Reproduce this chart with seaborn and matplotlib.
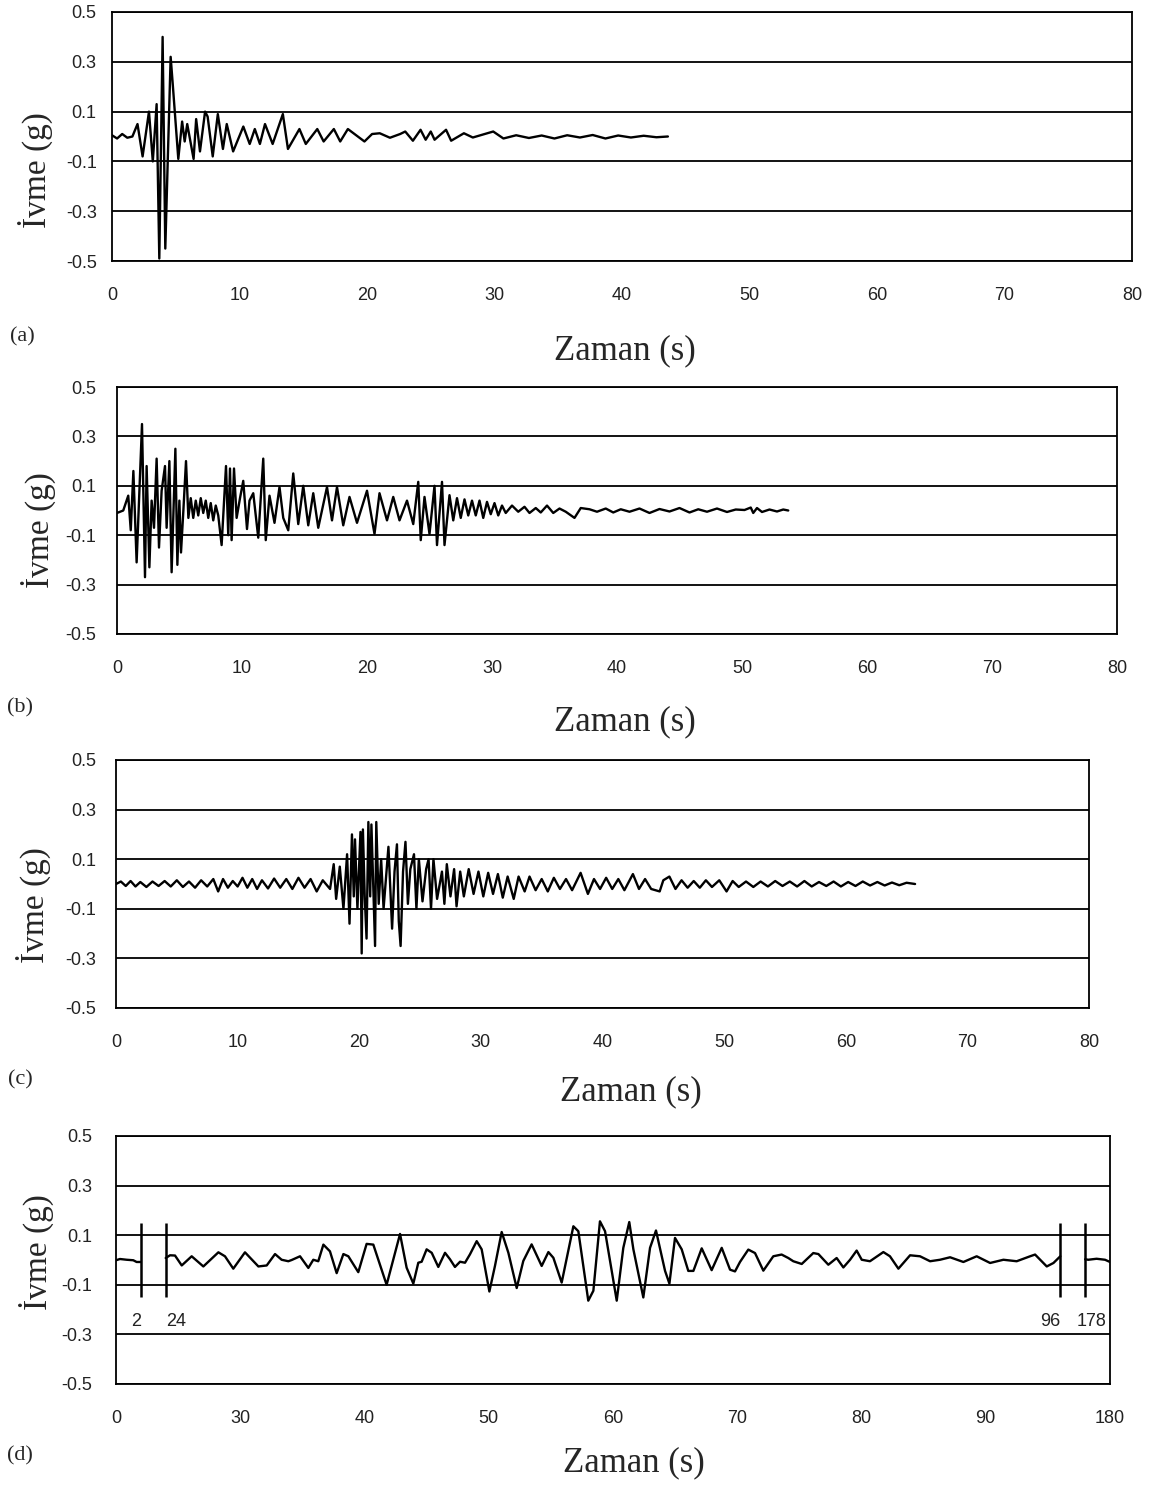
import matplotlib
matplotlib.use("Agg")
import matplotlib.pyplot as plt
import pandas as pd
import seaborn as sns

sns.set_style("white")
plt.rcParams["font.family"] = ["Liberation Sans", "DejaVu Sans"]
plt.rcParams["axes.unicode_minus"] = False

FIG_W, FIG_H = 1158, 1491

Y_TICKS = [0.5, 0.3, 0.1, -0.1, -0.3, -0.5]
Y_TICK_LABELS = ["0.5", "0.3", "0.1", "-0.1", "-0.3", "-0.5"]
X_TICKS = [0, 10, 20, 30, 40, 50, 60, 70, 80]
X_TICKS_D = [0, 30, 40, 50, 60, 70, 80, 90, 180]
BREAK_SECONDS = [2, 24, 96, 178]

# (a)
TIME_A = [
    0.0, 0.4, 0.8, 1.2, 1.6, 2.0, 2.4, 2.9, 3.2, 3.5,
    3.71, 3.97, 4.18, 4.6, 4.75, 5.2, 5.5, 5.7, 5.9, 6.4,
    6.6, 6.9, 7.3, 7.5, 7.9, 8.3, 8.7, 9.0, 9.5, 10.3,
    10.8, 11.2, 11.6, 12.0, 12.6, 13.4, 13.8, 14.7, 15.2, 16.1,
    16.6, 17.4, 17.9, 18.5, 19.8, 20.4, 21.0, 21.8, 22.6, 23.0,
    23.6, 24.2, 24.6, 25.0, 25.3, 26.2, 26.6, 27.6, 28.3, 29.1,
    29.9, 30.7, 31.7, 32.7, 33.7, 34.7, 35.7, 36.7, 37.7, 38.7,
    39.7, 40.7, 41.7, 42.7, 43.6,
]
ACC_A = [
    0.005, -0.008, 0.01, -0.005, 0.0, 0.05, -0.08, 0.1, -0.1, 0.13,
    -0.49, 0.40, -0.45, 0.32, 0.22, -0.09, 0.06, -0.02, 0.05, -0.09,
    0.07, -0.06, 0.1, 0.08, -0.08, 0.09, -0.05, 0.05, -0.06, 0.04,
    -0.03, 0.03, -0.03, 0.05, -0.03, 0.09, -0.05, 0.03, -0.03, 0.03,
    -0.02, 0.03, -0.02, 0.03, -0.02, 0.01, 0.013, -0.005, 0.01, 0.02,
    -0.017, 0.027, -0.013, 0.02, -0.013, 0.027, -0.017, 0.013, -0.004, 0.008,
    0.02, -0.008, 0.005, -0.006, 0.004, -0.008, 0.005, -0.004, 0.006, -0.008,
    0.004, -0.004, 0.003, -0.003, 0.0,
]

# (b)
TIME_B = [
    0.0, 0.5, 0.9, 1.1, 1.31, 1.57, 2.0, 2.24, 2.37, 2.59,
    2.77, 2.96, 3.17, 3.36, 3.57, 3.84, 3.97, 4.19, 4.37, 4.67,
    4.83, 4.99, 5.12, 5.31, 5.52, 5.71, 5.9, 6.1, 6.3, 6.5,
    6.7, 6.9, 7.1, 7.3, 7.5, 7.7, 7.9, 8.1, 8.37, 8.72,
    8.9, 9.04, 9.17, 9.36, 9.57, 9.84, 10.1, 10.4, 10.6, 10.9,
    11.3, 11.7, 11.9, 12.2, 12.6, 13.0, 13.3, 13.7, 14.1, 14.5,
    14.9, 15.3, 15.7, 16.1, 16.8, 17.2, 17.6, 18.1, 18.6, 19.2,
    20.0, 20.6, 21.0, 21.6, 22.1, 22.6, 23.2, 23.7, 24.1, 24.3,
    24.6, 25.0, 25.4, 25.6, 26.0, 26.2, 26.6, 26.9, 27.2, 27.5,
    27.8, 28.1, 28.4, 28.7, 29.0, 29.3, 29.6, 29.9, 30.2, 30.5,
    30.8, 31.1, 31.6, 32.1, 32.6, 33.0, 33.5, 33.9, 34.4, 34.9,
    35.4, 35.9, 36.6, 37.1, 37.8, 38.4, 39.1, 39.7, 40.3, 41.0,
    41.8, 42.6, 43.4, 44.2, 45.0, 45.8, 46.5, 47.2, 48.0, 48.8,
    49.5, 50.2, 50.7, 50.9, 51.2, 51.6, 52.2, 52.8, 53.3, 53.7,
]
ACC_B = [
    -0.01, 0.0, 0.06, -0.08, 0.16, -0.21, 0.35, -0.27, 0.18, -0.23,
    0.04, -0.07, 0.21, -0.15, 0.08, 0.18, -0.07, 0.2, -0.25, 0.25,
    -0.22, 0.04, -0.17, 0.0, 0.2, -0.03, 0.05, -0.03, 0.04, -0.02,
    0.05, -0.01, 0.04, -0.03, 0.03, -0.04, 0.02, -0.02, -0.14, 0.18,
    -0.1, 0.17, -0.12, 0.17, -0.03, 0.05, 0.12, -0.075, 0.04, 0.07,
    -0.11, 0.21, -0.12, 0.06, -0.05, 0.095, -0.03, -0.08, 0.15, -0.055,
    0.1, -0.06, 0.07, -0.07, 0.095, -0.04, 0.095, -0.06, 0.055, -0.05,
    0.08, -0.095, 0.07, -0.04, 0.055, -0.04, 0.04, -0.055, 0.116, -0.12,
    0.055, -0.095, 0.1, -0.14, 0.116, -0.14, 0.062, -0.04, 0.05, -0.03,
    0.045, -0.02, 0.04, -0.02, 0.04, -0.03, 0.035, -0.015, 0.03, -0.02,
    0.02, -0.01, 0.02, -0.005, 0.015, -0.01, 0.01, -0.008, 0.02, -0.01,
    0.008, -0.005, -0.03, 0.01, 0.005, -0.005, 0.008, -0.008, 0.005, -0.005,
    0.008, -0.01, 0.006, -0.004, 0.01, -0.008, 0.005, -0.005, 0.008, -0.006,
    0.004, 0.002, 0.012, -0.01, 0.01, -0.006, 0.004, -0.004, 0.004, 0.0,
]

# (c)
TIME_C = [
    0.0, 0.4, 0.8, 1.2, 1.6, 2.0, 2.5, 3.0, 3.5, 4.0,
    4.5, 5.0, 5.5, 6.0, 6.5, 7.0, 7.5, 8.0, 8.4, 8.8,
    9.2, 9.6, 10.0, 10.4, 10.8, 11.2, 11.6, 12.0, 12.5, 13.0,
    13.5, 14.0, 14.5, 15.0, 15.5, 16.0, 16.5, 17.0, 17.6, 17.9,
    18.1, 18.4, 18.7, 19.0, 19.2, 19.4, 19.55, 19.65, 19.85, 20.1,
    20.2, 20.3, 20.45, 20.6, 20.75, 20.9, 21.0, 21.15, 21.3, 21.4,
    21.6, 21.8, 22.0, 22.4, 22.7, 22.9, 23.1, 23.25, 23.4, 23.6,
    23.8, 24.0, 24.2, 24.5, 24.7, 24.9, 25.2, 25.5, 25.7, 25.9,
    26.1, 26.4, 26.8, 27.0, 27.2, 27.5, 27.8, 28.0, 28.3, 28.6,
    29.0, 29.4, 29.8, 30.2, 30.6, 31.0, 31.4, 31.8, 32.2, 32.7,
    33.1, 33.6, 34.0, 34.5, 35.0, 35.5, 36.0, 36.5, 37.0, 37.5,
    38.2, 38.8, 39.3, 39.8, 40.3, 40.8, 41.3, 41.8, 42.5, 43.0,
    43.5, 44.0, 44.7, 45.0, 45.5, 46.0, 46.5, 47.0, 47.5, 48.0,
    48.5, 49.0, 49.6, 50.2, 50.7, 51.2, 51.8, 52.4, 53.0, 53.6,
    54.2, 54.8, 55.4, 56.0, 56.6, 57.2, 57.8, 58.4, 59.0, 59.6,
    60.2, 60.8, 61.4, 62.0, 62.6, 63.2, 63.8, 64.4, 65.0, 65.7,
]
ACC_C = [
    0.0, 0.01, -0.008, 0.012, -0.01, 0.008, -0.012, 0.01, -0.008, 0.012,
    -0.01, 0.015, -0.012, 0.01, -0.015, 0.015, -0.01, 0.02, -0.03, 0.02,
    -0.015, 0.012, -0.01, 0.025, -0.015, 0.02, -0.02, 0.015, -0.018, 0.022,
    -0.015, 0.02, -0.02, 0.025, -0.015, 0.02, -0.03, 0.015, -0.02, 0.08,
    -0.06, 0.07, -0.1, 0.12, -0.16, 0.2, -0.05, 0.18, -0.1, 0.21,
    -0.28, 0.22, -0.05, -0.22, 0.25, -0.05, 0.24, 0.0, -0.25, 0.25,
    -0.08, 0.1, -0.1, 0.15, -0.18, 0.05, 0.16, -0.15, -0.25, 0.05,
    0.17, -0.08, 0.06, 0.12, -0.1, 0.1, -0.07, 0.06, 0.1, -0.1,
    0.1, -0.06, 0.05, -0.08, 0.08, -0.05, 0.06, -0.09, 0.05, -0.05,
    0.06, -0.04, 0.05, -0.05, 0.045, -0.04, 0.04, -0.055, 0.03, -0.06,
    0.03, -0.03, 0.03, -0.025, 0.02, -0.03, 0.025, -0.02, 0.02, -0.025,
    0.045, -0.04, 0.02, -0.02, 0.025, -0.02, 0.02, -0.025, 0.04, -0.02,
    0.02, -0.02, -0.03, 0.015, 0.03, -0.02, 0.015, -0.015, 0.012, -0.015,
    0.015, -0.012, 0.015, -0.03, 0.012, -0.012, 0.01, -0.012, 0.01, -0.01,
    0.012, -0.008, 0.01, -0.01, 0.012, -0.01, 0.008, -0.008, 0.01, -0.01,
    0.008, -0.008, 0.01, -0.006, 0.008, -0.006, 0.006, -0.005, 0.005, 0.0,
]

# (d) three pieces of one record, time in seconds
TIME_D1 = [0.0, 0.32, 0.86, 1.39, 1.66, 2.0]
ACC_D1 = [-0.001, 0.004, 0.001, -0.001, -0.008, -0.008]
TIME_D2 = [
    24.0, 24.35, 24.75, 25.29, 26.09, 27.03, 28.24, 28.77, 29.44, 30.38,
    31.46, 32.13, 32.80, 33.33, 33.87, 34.14, 34.81, 35.48, 35.88, 36.28,
    36.69, 37.22, 37.76, 38.30, 38.70, 39.50, 40.17, 40.71, 41.78, 42.86,
    43.39, 43.93, 44.33, 44.60, 45.00, 45.41, 45.94, 46.48, 46.88, 47.28,
    47.69, 48.09, 48.49, 49.03, 49.43, 50.05, 50.50, 51.04, 51.58, 52.25,
    52.78, 53.45, 54.26, 54.80, 55.20, 55.87, 56.81, 57.21, 58.01, 58.42,
    58.95, 59.36, 60.30, 60.83, 61.31, 61.64, 62.44, 62.98, 63.46, 63.92,
    64.19, 64.54, 64.99, 65.53, 66.06, 66.47, 67.14, 67.94, 68.75, 69.42,
    69.82, 70.22, 70.89, 71.43, 72.10, 72.90, 73.57, 74.11, 74.51, 75.19,
    76.12, 76.53, 77.33, 78.00, 78.54, 79.08, 79.61, 80.02, 80.68, 81.76,
    82.29, 82.97, 83.91, 84.71, 85.52, 86.32, 87.13, 88.20, 89.27, 90.35,
    91.42, 92.49, 93.57, 93.97, 94.91, 95.45, 96.00,
]
ACC_D2 = [
    0.008, 0.019, 0.018, -0.022, 0.015, -0.026, 0.031, 0.015, -0.035, 0.031,
    -0.026, -0.022, 0.024, 0.001, -0.005, 0.0, 0.015, -0.032, 0.001, -0.005,
    0.062, 0.035, -0.053, 0.024, 0.015, -0.049, 0.065, 0.062, -0.10, 0.105,
    -0.031, -0.095, -0.011, -0.007, 0.043, 0.029, -0.028, 0.029, 0.003, -0.028,
    -0.007, -0.011, 0.023, 0.076, 0.043, -0.127, -0.024, 0.113, 0.029, -0.113,
    -0.004, 0.063, -0.024, 0.032, 0.009, -0.091, 0.136, 0.116, -0.164, -0.124,
    0.156, 0.116, -0.164, 0.049, 0.153, 0.043, -0.151, 0.049, 0.119, 0.016,
    -0.044, -0.095, 0.089, 0.043, -0.044, -0.044, 0.047, -0.041, 0.049, -0.039,
    -0.046, -0.008, 0.042, 0.028, -0.043, 0.015, 0.022, 0.008, -0.005, -0.016,
    0.028, 0.024, -0.019, 0.008, -0.030, 0.001, 0.038, 0.001, -0.005, 0.032,
    0.015, -0.035, 0.019, 0.015, -0.005, 0.001, 0.011, -0.008, 0.015, -0.012,
    0.001, -0.005, 0.015, 0.022, -0.026, -0.012, 0.015,
]
TIME_D3 = [178.0, 178.25, 178.92, 179.6, 180.0]
ACC_D3 = [0.003, 0.001, 0.005, 0.001, -0.008]


def squeeze(t):
    # panel (d) axis skips 2-24 s and 96-178 s
    if t <= 2:
        return t
    if t <= 96:
        return t - 20
    return t - 100


def rect(left, top, right, bottom):
    return [left / FIG_W, 1 - bottom / FIG_H, (right - left) / FIG_W, (bottom - top) / FIG_H]


def fig_text(fig, x, y, s, **kw):
    fig.text(x / FIG_W, 1 - y / FIG_H, s, ha="center", va="center", **kw)


def style_axes(ax, ticks, labels, ypad):
    ax.set_xlim(0, 80)
    ax.set_ylim(-0.5, 0.5)
    ax.set_yticks(Y_TICKS)
    ax.set_yticklabels(Y_TICK_LABELS)
    ax.set_xticks(ticks)
    ax.set_xticklabels(labels)
    ax.set_axisbelow(True)
    ax.yaxis.grid(True, color="black", linewidth=1.3)
    ax.xaxis.grid(False)
    for spine in ax.spines.values():
        spine.set_color("black")
        spine.set_linewidth(1.3)
    ax.tick_params(axis="y", direction="out", length=6, width=1.2, pad=ypad, labelsize=13, labelcolor="#222222")
    ax.tick_params(axis="x", direction="in", length=5, width=1.2, pad=19, labelsize=13, labelcolor="#222222")
    ax.set_xlabel("")
    ax.set_ylabel("")


fig = plt.figure(figsize=(FIG_W / 100, FIG_H / 100), dpi=100)
serif = ["Liberation Serif", "DejaVu Serif"]

panels = [
    ("(a)", (112, 12, 1132, 261), TIME_A, ACC_A, (35, 170), (625, 351), (22, 337), 5),
    ("(b)", (117, 387, 1117, 634), TIME_B, ACC_B, (38, 530), (625, 722), (20, 708), 9),
    ("(c)", (116, 760, 1089, 1008), TIME_C, ACC_C, (33, 905), (631, 1092), (20, 1080), 8),
]
for tag, box, times, accs, ylab, xlab, tagpos, ypad in panels:
    ax = fig.add_axes(rect(*box))
    frame = pd.DataFrame({"Zaman": times, "Ivme": accs})
    sns.lineplot(data=frame, x="Zaman", y="Ivme", ax=ax, color="black", linewidth=1.7,
                 estimator=None, sort=False)
    style_axes(ax, X_TICKS, [str(v) for v in X_TICKS], ypad)
    fig_text(fig, *ylab, "İvme (g)", rotation=90, fontsize=24, family=serif)
    fig_text(fig, *xlab, "Zaman (s)", fontsize=25, family=serif)
    fig_text(fig, *tagpos, tag, fontsize=16, family=serif)

# (d)
ax = fig.add_axes(rect(116, 1136, 1110, 1384))
pieces = []
for k, (times, accs) in enumerate([(TIME_D1, ACC_D1), (TIME_D2, ACC_D2), (TIME_D3, ACC_D3)]):
    pieces.append(pd.DataFrame({"x": [squeeze(t) for t in times], "Ivme": accs, "piece": k}))
frame_d = pd.concat(pieces, ignore_index=True)
sns.lineplot(data=frame_d, x="x", y="Ivme", units="piece", estimator=None, sort=False,
             ax=ax, color="black", linewidth=1.7)
style_axes(ax, [squeeze(t) for t in X_TICKS_D], [str(t) for t in X_TICKS_D], 11)
for t in BREAK_SECONDS:
    ax.vlines(squeeze(t), -0.15, 0.15, color="black", linewidth=1.8)
ax.text(squeeze(2), -0.25, "2", ha="right", va="center", fontsize=13, color="#222222")
ax.text(squeeze(24), -0.25, "24", ha="left", va="center", fontsize=13, color="#222222")
ax.text(squeeze(96), -0.25, "96", ha="right", va="center", fontsize=13, color="#222222")
ax.text(squeeze(178) - 0.7, -0.25, "178", ha="left", va="center", fontsize=13, color="#222222")
fig_text(fig, 36, 1252, "İvme (g)", rotation=90, fontsize=24, family=serif)
fig_text(fig, 634, 1463, "Zaman (s)", fontsize=25, family=serif)
fig_text(fig, 20, 1456, "(d)", fontsize=16, family=serif)

fig.savefig("out.png", dpi=100)
